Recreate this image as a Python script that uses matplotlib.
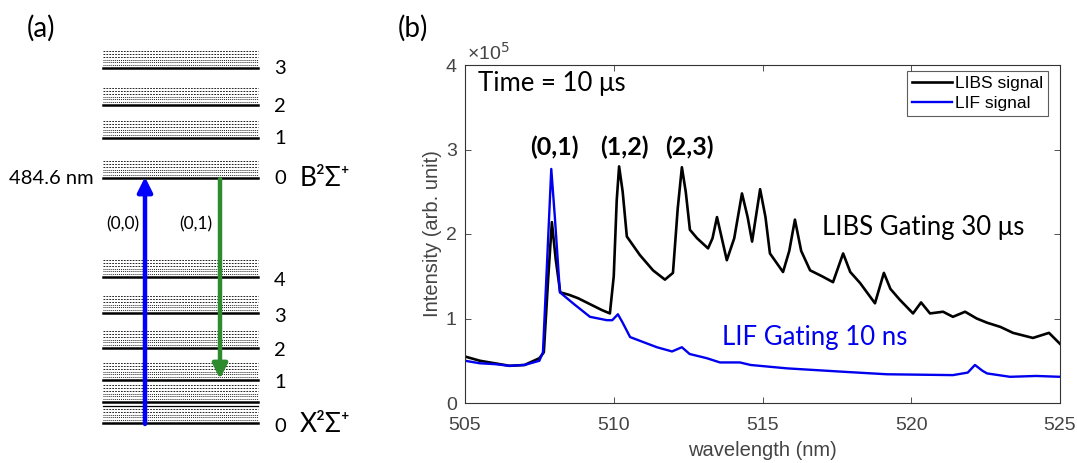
import numpy as np
import matplotlib.pyplot as plt

# ---- data for panel (b) (intensity in units of 1e5) ----
libs_nm = [505.0, 505.5, 506.0, 506.5, 507.0, 507.5, 507.65, 507.8, 507.92, 508.05, 508.2,
           508.5, 508.8, 509.2, 509.6, 509.87, 510.0, 510.1, 510.18, 510.3, 510.44, 510.88,
           511.32, 511.72, 511.99, 512.15, 512.29, 512.42, 512.56, 512.8, 513.17, 513.32,
           513.47, 513.6, 513.8, 514.05, 514.31, 514.5, 514.65, 514.92, 515.1, 515.25,
           515.69, 515.9, 516.09, 516.3, 516.6, 517.0, 517.37, 517.71, 517.95, 518.28,
           518.78, 519.08, 519.3, 519.62, 520.06, 520.33, 520.63, 521.07, 521.4, 521.81,
           522.2, 522.55, 523.0, 523.42, 524.09, 524.63, 525.0]
libs_int = [0.55, 0.50, 0.47, 0.44, 0.45, 0.53, 0.60, 1.50, 2.14, 1.70, 1.31,
            1.28, 1.24, 1.17, 1.10, 1.06, 1.50, 2.40, 2.80, 2.50, 1.97, 1.75,
            1.57, 1.46, 1.54, 2.30, 2.79, 2.50, 2.05, 1.95, 1.83, 1.95,
            2.20, 2.00, 1.69, 1.95, 2.48, 2.20, 1.91, 2.53, 2.20, 1.77,
            1.55, 1.80, 2.17, 1.80, 1.57, 1.50, 1.43, 1.77, 1.55, 1.42,
            1.18, 1.54, 1.35, 1.22, 1.06, 1.19, 1.06, 1.08, 1.02, 1.08,
            1.00, 0.95, 0.90, 0.83, 0.77, 0.83, 0.70]

lif_nm = [505.0, 505.5, 506.0, 506.5, 507.0, 507.5, 507.62, 507.75, 507.9, 508.02, 508.19,
          508.63, 509.2, 509.77, 509.95, 510.14, 510.3, 510.55, 511.0, 511.45, 511.96,
          512.29, 512.55, 513.13, 513.57, 514.24, 514.6, 515.82, 517.7, 519.18, 521.4,
          521.9, 522.14, 522.4, 522.55, 523.32, 524.2, 525.0]
lif_int = [0.50, 0.47, 0.46, 0.44, 0.45, 0.50, 0.60, 1.60, 2.77, 2.20, 1.31,
           1.18, 1.02, 0.98, 0.98, 1.05, 0.95, 0.78, 0.72, 0.66, 0.61,
           0.66, 0.58, 0.53, 0.48, 0.48, 0.45, 0.41, 0.37, 0.34, 0.33,
           0.36, 0.45, 0.38, 0.35, 0.31, 0.32, 0.31]

peak_labels = ["(0,1)", "(1,2)", "(2,3)"]
peak_label_nm = [508.0, 510.35, 512.55]

# ---- level diagram for panel (a), y in pixel rows of the picture ----
b_levels = [178, 138, 105, 68]
b_names = ["0", "1", "2", "3"]
x_levels = [423, 380, 348, 313, 277]
x_names = ["0", "1", "2", "3", "4"]

fig = plt.figure(figsize=(10.77, 4.63), dpi=100)
txt_font = ['Lato', 'DejaVu Sans']
ax_font = ['Liberation Sans', 'DejaVu Sans']

# panel (a)
ax0 = fig.add_axes([0, 0, 1, 1])
ax0.set_xlim(0, 1077)
ax0.set_ylim(463, 0)
ax0.axis('off')

x0, x1 = 103, 258


def level(y, lw=1.8):
    ax0.plot([x0, x1], [y, y], color='black', lw=lw)
    for k in range(1, 7):
        dens = (1, 1) if k < 4 else (1.8, 1.2)
        ax0.plot([x0, x1], [y - 2.8 * k, y - 2.8 * k], color='#222222', lw=0.7,
                 linestyle=(0, dens))


for y in b_levels:
    level(y)
for y in x_levels:
    level(y)
level(402)
ax0.plot([x0, x1], [406, 406], color='black', lw=0.9)

for y, n in zip(b_levels, b_names):
    ax0.text(280, y + 1, n, fontsize=14.5, family=txt_font, va='center', ha='center')
for y, n in zip(x_levels, x_names):
    ax0.text(280, y + 3, n, fontsize=14.5, family=txt_font, va='center', ha='center')
ax0.text(300, 178, "B²Σ⁺", fontsize=19, family=txt_font, va='center', ha='left')
ax0.text(300, 424, "X²Σ⁺", fontsize=19, family=txt_font, va='center', ha='left')
ax0.text(94, 178, "484.6 nm", fontsize=14.5, family=txt_font, va='center', ha='right')
ax0.text(123, 224, "(0,0)", fontsize=12.5, family=txt_font, va='center', ha='center')
ax0.text(196, 224, "(0,1)", fontsize=12.5, family=txt_font, va='center', ha='center')
ax0.text(41, 28, "(a)", fontsize=20, family=txt_font, va='center', ha='center')
ax0.text(413, 28, "(b)", fontsize=20, family=txt_font, va='center', ha='center')

ax0.annotate('', xy=(145, 177), xytext=(145, 424),
             arrowprops=dict(arrowstyle='-|>', lw=3.2, color='#0000ff',
                             mutation_scale=22, shrinkA=0, shrinkB=0))
ax0.annotate('', xy=(220, 379), xytext=(220, 179),
             arrowprops=dict(arrowstyle='-|>', lw=3.2, color='#2e8b2e',
                             mutation_scale=22, shrinkA=0, shrinkB=0))

# panel (b)
ax = fig.add_axes([465 / 1077, 1 - 403 / 463, 595 / 1077, 338 / 463])
ax.plot(libs_nm, libs_int, color='black', lw=1.9, label='LIBS signal')
ax.plot(lif_nm, lif_int, color='#0000ee', lw=1.7, label='LIF signal')
ax.set_xlim(505, 525)
ax.set_ylim(0, 4)
ax.set_xticks([505, 510, 515, 520, 525])
ax.set_yticks([0, 1, 2, 3, 4])
ax.tick_params(direction='in', top=True, right=True, length=4, width=0.6,
               labelsize=14, colors='#333333')
ax.tick_params(axis='x', pad=10)
ax.tick_params(axis='y', pad=6)
for lab in ax.get_xticklabels() + ax.get_yticklabels():
    lab.set_family(ax_font)
    lab.set_color('#444444')
for s in ax.spines.values():
    s.set_linewidth(0.8)
    s.set_color('#333333')
ax.set_xlabel('wavelength (nm)', fontsize=14.5, family=ax_font, color='#444444', labelpad=5)
ax.set_ylabel('Intensity (arb. unit)', fontsize=14.5, family=ax_font, color='#444444', labelpad=3)
ax.text(0.003, 1.005, '×10$^5$', transform=ax.transAxes, fontsize=14, family=ax_font,
        color='#444444', ha='left', va='bottom')

ax.text(505.45, 3.78, 'Time = 10 μs', fontsize=18.5, family=txt_font, va='center', ha='left')
for lab, xn in zip(peak_labels, peak_label_nm):
    ax.text(xn, 3.03, lab, fontsize=18, family=txt_font, weight='bold', va='center', ha='center')
ax.text(517.0, 2.08, 'LIBS Gating 30 μs', fontsize=18.5, family=txt_font, va='center', ha='left')
ax.text(513.65, 0.77, 'LIF Gating 10 ns', fontsize=18.5, family=txt_font, color='#0000ee',
        va='center', ha='left')

leg = ax.legend(loc='upper right', bbox_to_anchor=(0.98, 0.982), borderaxespad=0,
                frameon=True, fancybox=False, handlelength=2.3, handletextpad=0.15,
                borderpad=0.3, labelspacing=0.25, prop={'family': ax_font, 'size': 12.5})
leg.get_frame().set_edgecolor('#333333')
leg.get_frame().set_linewidth(0.8)

fig.savefig('out.png', dpi=100)
